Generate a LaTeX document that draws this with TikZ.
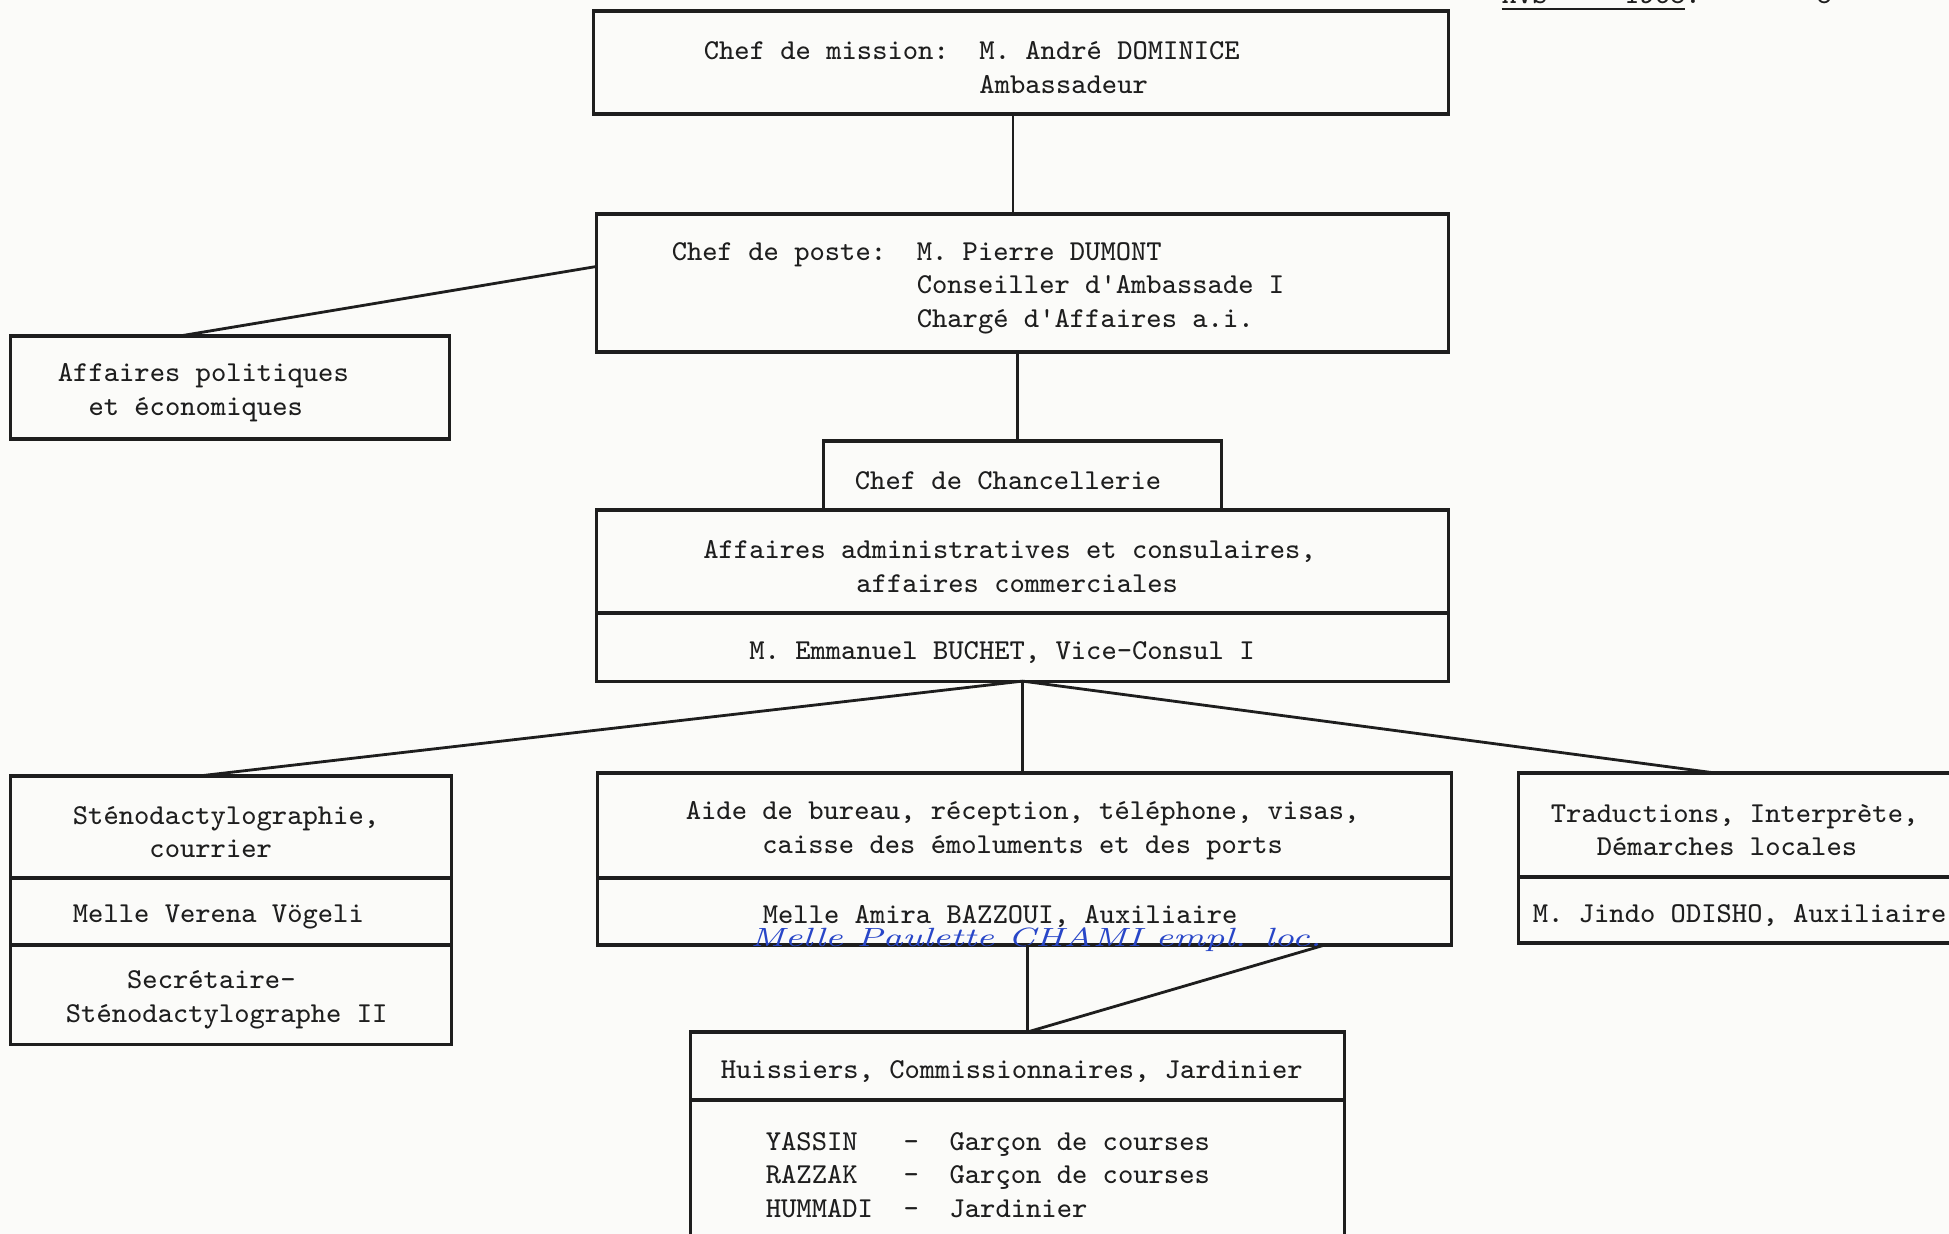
\documentclass[tikz,border=0pt]{standalone}
\usepackage{fontspec}
\usepackage{tikz}
\usetikzlibrary{positioning, calc}
\definecolor{ink}{RGB}{30,30,30}
\definecolor{paper}{RGB}{251,251,249}
\definecolor{pen}{RGB}{40,70,200}
% typewriter: every space as wide as a letter
\newcommand{\typew}{\fontsize{8.2}{9.5}\selectfont\ttfamily\frenchspacing}
\newcommand{\typespace}{\spaceskip=\fontcharwd\font`M\relax\xspaceskip=\spaceskip}
\tikzset{
  cell/.style={rectangle, draw=ink, line width=0.9pt, inner ysep=0pt,
    outer sep=0pt, align=left, font=\typew, text=ink,
    execute at begin node={\typespace\rule{0pt}{8pt}}},
  link/.style={draw=ink, line width=0.8pt},
  pentext/.style={font=\fontsize{7.5}{9}\selectfont\itshape, text=pen, inner sep=0pt}
}

\begin{document}
\begin{tikzpicture}[x=0.01cm, y=-0.01cm]
  \useasboundingbox (0,0) rectangle (1949,1234);
  \fill[paper] (0,0) rectangle (1949,1234);
  \clip (0,0) rectangle (1949,1234);

  % Reference line, cut at the top edge
  \node[font=\typew, text=ink, anchor=base west, inner sep=0pt, execute at begin node=\typespace] (ref) at (1501,4) {\underline{AVS~~~~~1968}.};
  \node[font=\typew, text=ink, anchor=base west, inner sep=0pt] (page) at (1816,4) {8};

  % Head of mission
  \node[cell, minimum width=8.54cm, minimum height=1.03cm, inner xsep=1.10cm, text width=6.34cm] (mission) at (1021,62.5)
    {Chef de mission:~~M. André DOMINICE\\\phantom{Chef de mission:~~}Ambassadeur};

  % Head of post
  \node[cell, minimum width=8.51cm, minimum height=1.38cm, inner xsep=0.75cm, text width=7.01cm] (poste) at (1022.5,283)
    {Chef de poste:~~M. Pierre DUMONT\\\phantom{Chef de poste:~~}Conseiller d'Ambassade I\\\phantom{Chef de poste:~~}Chargé d'Affaires a.i.};

  \node[cell, minimum width=4.38cm, minimum height=1.03cm, inner xsep=0.47cm, text width=3.44cm] (polit) at (230,387.5)
    {Affaires politiques\\~~et économiques};

  % Chancery
  \node[cell, minimum width=3.97cm, minimum height=0.69cm, inner xsep=0.31cm, text width=3.35cm] (chanc) at (1022.5,475.5)
    {Chef de Chancellerie};
  \node[cell, minimum width=8.51cm, minimum height=1.03cm, inner xsep=1.065cm, text width=6.38cm, below=0pt of chanc] (admin)
    {Affaires administratives et consulaires,\\~~~~~~~~~~affaires commerciales};
  \node[cell, minimum width=8.51cm, minimum height=0.68cm, inner xsep=1.525cm, text width=5.46cm, below=0pt of admin] (buchet)
    {M. Emmanuel BUCHET, Vice-Consul I};

  % Sections
  \node[cell, minimum width=4.40cm, minimum height=1.02cm, inner xsep=0.62cm, text width=3.16cm] (steno1) at (231,827)
    {Sténodactylographie,\\~~~~~courrier};
  \node[cell, minimum width=4.40cm, minimum height=0.67cm, inner xsep=0.62cm, text width=3.16cm, below=0pt of steno1] (steno2)
    {Melle Verena Vögeli};
  \node[cell, minimum width=4.40cm, minimum height=0.99cm, inner xsep=0.55cm, text width=3.30cm, below=0pt of steno2] (steno3)
    {~~~~Secrétaire-\\Sténodactylographe II};

  \node[cell, minimum width=8.53cm, minimum height=1.05cm, inner xsep=0.88cm, text width=6.77cm] (aide1) at (1024.5,825.5)
    {Aide de bureau, réception, téléphone, visas,\\~~~~~caisse des émoluments et des ports};
  \node[cell, minimum width=8.53cm, minimum height=0.67cm, inner xsep=1.65cm, text width=5.23cm, below=0pt of aide1] (aide2)
    {Melle Amira BAZZOUI, Auxiliaire};
  \node[pentext] (chami) at (1036,940)
    {\scalebox{1.36}[1]{Melle Paulette CHAMI empl. loc.}};

  \node[cell, minimum width=4.46cm, minimum height=1.04cm, inner xsep=0.32cm, text width=3.82cm] (trad1) at (1742,825)
    {Traductions, Interprète,\\~~~Démarches locales};
  \node[cell, minimum width=4.46cm, minimum height=0.66cm, inner xsep=0.14cm, text width=4.18cm, below=0pt of trad1] (trad2)
    {M. Jindo ODISHO, Auxiliaire};

  % Ushers
  \node[cell, minimum width=6.53cm, minimum height=0.68cm, inner xsep=0.30cm, text width=5.93cm] (huiss1) at (1017.5,1066)
    {Huissiers, Commissionnaires, Jardinier};
  \node[cell, minimum width=6.53cm, minimum height=1.40cm, inner xsep=0.75cm, text width=5.03cm, below=0pt of huiss1] (huiss2)
    {YASSIN~~~-~~Garçon de courses\\RAZZAK~~~-~~Garçon de courses\\HUMMADI~~-~~Jardinier};

  % Links
  \draw[link] ($(mission.south)+(-8,0)$) coordinate (m1) -- (m1 |- poste.north);
  \draw[link] ($(poste.north west)!0.38!(poste.south west)$) -- ($(polit.north)+(-50,0)$);
  \draw[link] ($(poste.south)+(-5,0)$) coordinate (p1) -- (p1 |- chanc.north);
  \draw[link] (buchet.south) -- ($(steno1.north)+(-32,0)$);
  \draw[link] (buchet.south) -- (buchet.south |- aide1.north);
  \draw[link] (buchet.south) -- ($(trad1.north)+(-27,0)$);
  \draw[link] ($(aide2.south)+(3,0)$) coordinate (a1) -- (a1 |- huiss1.north);
  \draw[link] ($(aide2.south)+(300,0)$) -- (a1 |- huiss1.north);
\end{tikzpicture}
\end{document}
